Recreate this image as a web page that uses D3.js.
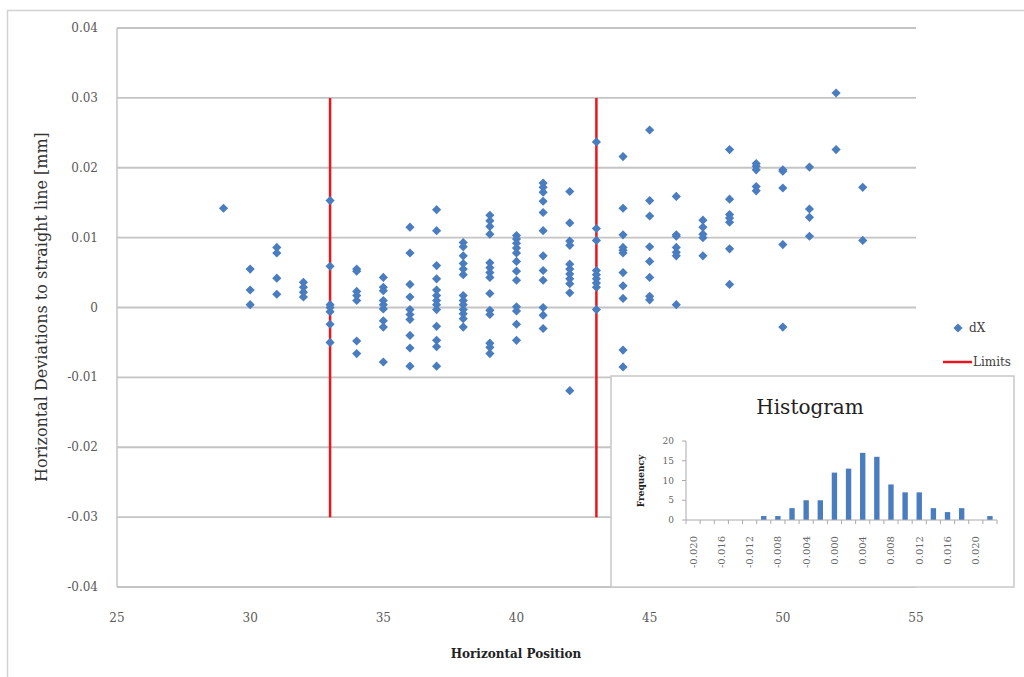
<!DOCTYPE html>
<html>
<head>
<meta charset="utf-8">
<script src="https://cdn.jsdelivr.net/npm/d3@7"></script>
<style>
  body { margin: 0; background: #fff; }
  svg text { font-family: "DejaVu Serif", "Liberation Serif", serif; }
</style>
</head>
<body>
<div id="chart"></div>
<script>
// scatter data: horizontal position and the deviations measured there (mm)
var positions = [29, 30, 31, 32, 33, 34, 35, 36, 37, 38, 39, 40, 41, 42, 43, 44, 45, 46, 47, 48, 49, 50, 51, 52, 53];
var deviations = [
    [0.0142],
    [0.0055, 0.0025, 0.0004],
    [0.0086, 0.0078, 0.0042, 0.0019],
    [0.0036, 0.0029, 0.0022, 0.0015],
    [0.0153, 0.0059, 0.0004, 0.0000, -0.0006, -0.0024, -0.0050],
    [0.0055, 0.0052, 0.0023, 0.0017, 0.0010, -0.0048, -0.0066],
    [0.0043, 0.0029, 0.0024, 0.0010, 0.0004, -0.0002, -0.0019, -0.0028, -0.0078],
    [0.0115, 0.0078, 0.0033, 0.0015, -0.0003, -0.0010, -0.0017, -0.0040, -0.0058, -0.0084],
    [0.0140, 0.0110, 0.0060, 0.0041, 0.0025, 0.0017, 0.0010, 0.0004, -0.0003, -0.0027, -0.0047, -0.0056, -0.0084],
    [0.0093, 0.0087, 0.0074, 0.0063, 0.0055, 0.0047, 0.0017, 0.0010, 0.0004, -0.0003, -0.0009, -0.0016, -0.0028],
    [0.0132, 0.0124, 0.0116, 0.0105, 0.0064, 0.0057, 0.0050, 0.0043, 0.0020, -0.0004, -0.0010, -0.0051, -0.0057, -0.0066],
    [0.0103, 0.0098, 0.0092, 0.0085, 0.0078, 0.0066, 0.0052, 0.0039, 0.0001, -0.0005, -0.0024, -0.0047],
    [0.0178, 0.0172, 0.0165, 0.0152, 0.0136, 0.0110, 0.0074, 0.0053, 0.0039, 0.0000, -0.0011, -0.0030],
    [0.0166, 0.0121, 0.0095, 0.0089, 0.0062, 0.0055, 0.0048, 0.0041, 0.0034, 0.0021, -0.0119],
    [0.0237, 0.0113, 0.0096, 0.0053, 0.0047, 0.0041, 0.0035, 0.0029, -0.0003],
    [0.0216, 0.0142, 0.0104, 0.0086, 0.0082, 0.0078, 0.0050, 0.0031, 0.0013, -0.0061, -0.0085],
    [0.0254, 0.0153, 0.0131, 0.0087, 0.0066, 0.0043, 0.0016, 0.0011],
    [0.0159, 0.0104, 0.0102, 0.0086, 0.0079, 0.0074, 0.0004],
    [0.0125, 0.0115, 0.0105, 0.0100, 0.0074],
    [0.0226, 0.0155, 0.0133, 0.0128, 0.0122, 0.0084, 0.0033],
    [0.0206, 0.0202, 0.0197, 0.0173, 0.0167],
    [0.0197, 0.0195, 0.0171, 0.0090, -0.0028],
    [0.0201, 0.0141, 0.0129, 0.0102],
    [0.0307, 0.0226],
    [0.0172, 0.0096]
];

// red limit lines
var limitPositions = [33, 43];
var limitRange = [-0.03, 0.03];

// axis ticks
var xTicks = [25, 30, 35, 40, 45, 50, 55];
var yTicks = [-0.04, -0.03, -0.02, -0.01, 0, 0.01, 0.02, 0.03, 0.04];

// histogram of the deviations
var binLabels = ['-0.020', '-0.018', '-0.016', '-0.014', '-0.012', '-0.010', '-0.008', '-0.006', '-0.004', '-0.002',
    '0.000', '0.002', '0.004', '0.006', '0.008', '0.010', '0.012', '0.014', '0.016', '0.018', '0.020', 'More'];
var binCounts = [0, 0, 0, 0, 0, 1, 1, 3, 5, 5, 12, 13, 17, 16, 9, 7, 7, 3, 2, 3, 0, 1];
var histYTicks = [0, 5, 10, 15, 20];

var svgWidth = 1024;
var svgHeight = 677;
var blue = '#4a7dbf';
var red = '#e8161d';
var grid = '#c4c4c4';

var svg = d3.select('#chart')
    .append('svg')
    .attr('width', svgWidth)
    .attr('height', svgHeight);

// outer chart frame (runs off the right and bottom)
svg.append('rect')
    .attr('x', 7.5)
    .attr('y', 10.5)
    .attr('width', 1040)
    .attr('height', 700)
    .attr('fill', 'none')
    .attr('stroke', '#d2d2d2')
    .attr('stroke-width', 1.5);

var xScale = d3.scaleLinear().domain([25, 55]).range([117, 916]);
var yScale = d3.scaleLinear().domain([-0.04, 0.04]).range([587, 28]);

// gridlines
svg.append('g')
    .selectAll('line')
    .data(yTicks)
    .enter()
    .append('line')
    .attr('x1', xScale(25))
    .attr('x2', xScale(55))
    .attr('y1', d => yScale(d))
    .attr('y2', d => yScale(d))
    .attr('stroke', grid)
    .attr('stroke-width', 1.8);

svg.append('line')
    .attr('x1', xScale(25))
    .attr('x2', xScale(25))
    .attr('y1', yScale(0.04))
    .attr('y2', yScale(-0.04))
    .attr('stroke', grid)
    .attr('stroke-width', 1.5);

// y tick labels
svg.append('g')
    .selectAll('text')
    .data(yTicks)
    .enter()
    .append('text')
    .attr('x', 98)
    .attr('y', d => yScale(d) + 4)
    .attr('text-anchor', 'end')
    .attr('font-size', 12)
    .attr('fill', '#5a5a5a')
    .text(d => d === 0 ? '0' : d.toFixed(2));

// x tick labels
svg.append('g')
    .selectAll('text')
    .data(xTicks)
    .enter()
    .append('text')
    .attr('x', d => xScale(d))
    .attr('y', 622)
    .attr('text-anchor', 'middle')
    .attr('font-size', 12)
    .attr('fill', '#5a5a5a')
    .text(d => d);

// axis titles
svg.append('text')
    .attr('transform', 'translate(47, 307) rotate(-90)')
    .attr('text-anchor', 'middle')
    .attr('font-size', 16)
    .attr('fill', '#333')
    .text('Horizontal Deviations to straight line [mm]');

svg.append('text')
    .attr('x', 516)
    .attr('y', 658)
    .attr('text-anchor', 'middle')
    .attr('font-size', 12)
    .attr('font-weight', 'bold')
    .attr('fill', '#222')
    .text('Horizontal Position');

// limit lines
svg.append('g')
    .selectAll('line')
    .data(limitPositions)
    .enter()
    .append('line')
    .attr('x1', d => xScale(d))
    .attr('x2', d => xScale(d))
    .attr('y1', yScale(limitRange[1]))
    .attr('y2', yScale(limitRange[0]))
    .attr('stroke', red)
    .attr('stroke-width', 2.5);

// points
var points = [];
positions.forEach(function (p, i) {
    deviations[i].forEach(function (v) {
        points.push({ x: p, y: v });
    });
});

var diamond = d3.symbol().type(d3.symbolSquare).size(42);

svg.append('g')
    .selectAll('path')
    .data(points)
    .enter()
    .append('path')
    .attr('d', diamond)
    .attr('transform', d => `translate(${xScale(d.x)}, ${yScale(d.y)}) rotate(45)`)
    .attr('fill', blue);

// legend
var legend = svg.append('g');
legend.append('path')
    .attr('d', diamond)
    .attr('transform', 'translate(958, 328) rotate(45)')
    .attr('fill', blue);
legend.append('text')
    .attr('x', 969)
    .attr('y', 332)
    .attr('font-size', 12)
    .attr('fill', '#404040')
    .text('dX');
legend.append('line')
    .attr('x1', 943)
    .attr('x2', 972)
    .attr('y1', 362)
    .attr('y2', 362)
    .attr('stroke', red)
    .attr('stroke-width', 2.5);
legend.append('text')
    .attr('x', 973)
    .attr('y', 366)
    .attr('font-size', 12)
    .attr('fill', '#404040')
    .text('Limits');

// histogram inset
var inset = svg.append('g');
inset.append('rect')
    .attr('x', 611)
    .attr('y', 376)
    .attr('width', 403)
    .attr('height', 211)
    .attr('fill', '#fff')
    .attr('stroke', '#c8c8c8')
    .attr('stroke-width', 1.5);

inset.append('text')
    .attr('x', 810)
    .attr('y', 414)
    .attr('text-anchor', 'middle')
    .attr('font-size', 20)
    .attr('fill', '#222')
    .text('Histogram');

var hx = d3.scaleBand().domain(binLabels).range([686, 997]).paddingInner(0.62).paddingOuter(0.31);
var hy = d3.scaleLinear().domain([0, 20]).range([520, 441]);

inset.append('g')
    .selectAll('rect')
    .data(binLabels)
    .enter()
    .append('rect')
    .attr('x', d => hx(d))
    .attr('width', hx.bandwidth())
    .attr('y', (d, i) => hy(binCounts[i]))
    .attr('height', (d, i) => hy(0) - hy(binCounts[i]))
    .attr('fill', blue);

// histogram axes
inset.append('line')
    .attr('x1', 686).attr('x2', 997)
    .attr('y1', hy(0)).attr('y2', hy(0))
    .attr('stroke', '#aaa');
inset.append('line')
    .attr('x1', 686).attr('x2', 686)
    .attr('y1', hy(0)).attr('y2', hy(20))
    .attr('stroke', '#aaa');

var step = hx.step();
inset.append('g')
    .selectAll('line')
    .data(d3.range(binLabels.length + 1))
    .enter()
    .append('line')
    .attr('x1', i => 686 + i * step)
    .attr('x2', i => 686 + i * step)
    .attr('y1', hy(0))
    .attr('y2', hy(0) + 4)
    .attr('stroke', '#aaa');

inset.append('g')
    .selectAll('line')
    .data(histYTicks)
    .enter()
    .append('line')
    .attr('x1', 682)
    .attr('x2', 686)
    .attr('y1', d => hy(d))
    .attr('y2', d => hy(d))
    .attr('stroke', '#aaa');

inset.append('g')
    .selectAll('text')
    .data(histYTicks)
    .enter()
    .append('text')
    .attr('x', 674)
    .attr('y', d => hy(d) + 3)
    .attr('text-anchor', 'end')
    .attr('font-size', 9)
    .attr('fill', '#666')
    .text(d => d);

inset.append('g')
    .selectAll('text')
    .data(binLabels.filter((d, i) => i % 2 === 0))
    .enter()
    .append('text')
    .attr('transform', d => `translate(${hx(d) + hx.bandwidth() / 2 + 3.5}, 536) rotate(-90)`)
    .attr('text-anchor', 'end')
    .attr('font-size', 10)
    .attr('fill', '#666')
    .text(d => d);

inset.append('text')
    .attr('transform', 'translate(644, 481) rotate(-90)')
    .attr('text-anchor', 'middle')
    .attr('font-size', 9)
    .attr('font-weight', 'bold')
    .attr('fill', '#222')
    .text('Frequency');
</script>
</body>
</html>
